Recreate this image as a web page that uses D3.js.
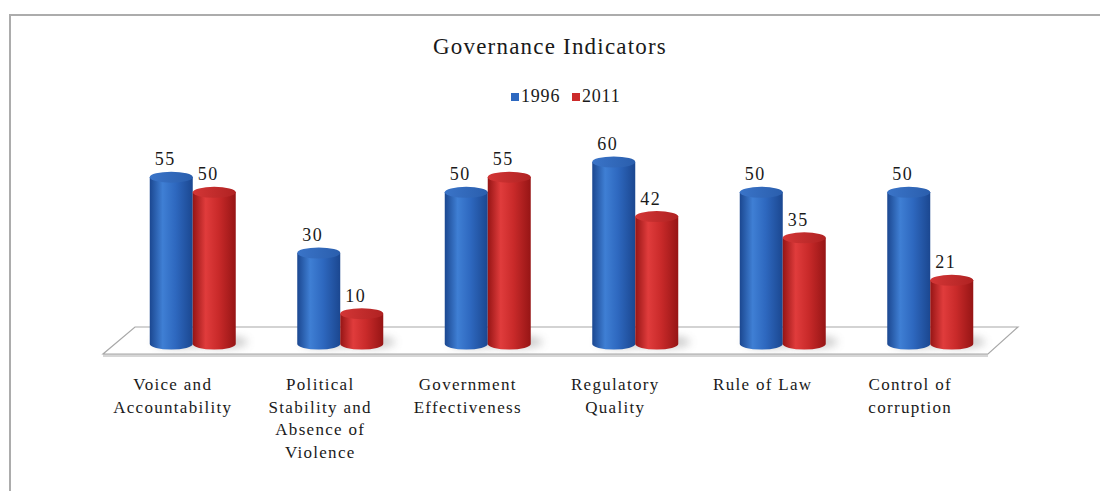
<!DOCTYPE html>
<html>
<head>
<meta charset="utf-8">
<script src="https://cdn.jsdelivr.net/npm/d3@7/dist/d3.min.js"></script>
<style>
  html, body { margin: 0; padding: 0; background: #fff; }
  svg { display: block; }
  text { font-family: "Liberation Serif", "DejaVu Serif", serif; fill: #1a1a1a; }
</style>
</head>
<body>
<svg id="chart" width="1100" height="491"></svg>
<script>
// Governance indicator scores, 1996 vs 2011
const categories = [
  ["Voice and", "Accountability"],
  ["Political", "Stability and", "Absence of", "Violence"],
  ["Government", "Effectiveness"],
  ["Regulatory", "Quality"],
  ["Rule of Law"],
  ["Control of", "corruption"]
];
const seriesNames = ["1996", "2011"];
const values1996 = [55, 30, 50, 60, 50, 50];
const values2011 = [50, 10, 55, 42, 35, 21];
const seriesColors = ["#2d68c0", "#cc2b2b"];

const svg = d3.select("#chart");
const W = 1100, H = 491;

// outer frame (top and left edges)
svg.append("path")
  .attr("d", `M10,${H} L10,15 L${W},15`)
  .attr("fill", "none").attr("stroke", "#acacac").attr("stroke-width", 2);

const defs = svg.append("defs");
function cylGradient(id, dark, mid, light) {
  const g = defs.append("linearGradient").attr("id", id)
    .attr("x1", "0%").attr("x2", "100%").attr("y1", "0%").attr("y2", "0%");
  g.append("stop").attr("offset", "0%").attr("stop-color", dark);
  g.append("stop").attr("offset", "30%").attr("stop-color", light);
  g.append("stop").attr("offset", "60%").attr("stop-color", mid);
  g.append("stop").attr("offset", "100%").attr("stop-color", dark);
}
cylGradient("g0", "#1b4790", "#2e68bf", "#3f7fd4");
cylGradient("g1", "#961515", "#c92a2a", "#e03c3c");
function topGradient(id, a, b) {
  const g = defs.append("linearGradient").attr("id", id)
    .attr("x1", "0%").attr("x2", "100%").attr("y1", "0%").attr("y2", "0%");
  g.append("stop").attr("offset", "0%").attr("stop-color", a);
  g.append("stop").attr("offset", "100%").attr("stop-color", b);
}
topGradient("t0", "#3a74c8", "#2a5ead");
topGradient("t1", "#d33636", "#b02222");
defs.append("filter").attr("id", "blur")
  .attr("x", "-50%").attr("y", "-50%").attr("width", "200%").attr("height", "200%")
  .append("feGaussianBlur").attr("stdDeviation", 4);

// scales
const x = d3.scaleBand().domain(d3.range(categories.length)).range([119, 1004]);
const xs = d3.scaleBand().domain(seriesNames).range([0, 86]);
const y = d3.scaleLinear().domain([0, 60]).range([344, 162]);
const depthBack = 17, depthFront = 10, skew = 16;

// floor
const y0 = y(0);
const floorBack = y0 - depthBack, floorFront = y0 + depthFront;
const xl = x.range()[0], xr = x.range()[1];
svg.append("polygon")
  .attr("points", [
    [xl - skew, floorFront + 3], [xr - skew, floorFront + 3],
    [xr - skew, floorFront], [xl - skew, floorFront]
  ].join(" "))
  .attr("fill", "#d6d6d6");
svg.append("polygon")
  .attr("points", [
    [xl + skew, floorBack], [xr + 14, floorBack],
    [xr - skew, floorFront], [xl - skew, floorFront]
  ].join(" "))
  .attr("fill", "#fff").attr("stroke", "#a8a8a8").attr("stroke-width", 1.2);

// bar records
const bars = [];
categories.forEach((c, i) => {
  [values1996, values2011].forEach((vals, s) => {
    bars.push({ i, s, v: vals[i] });
  });
});
const bw = xs.bandwidth();
const rx = bw / 2, ry = 5.5;
const gx = d => x(d.i) + x.bandwidth() / 2 - 43 + xs(seriesNames[d.s]);

// soft shadows on the floor
svg.append("g").selectAll("ellipse").data(bars).join("ellipse")
  .attr("cx", d => gx(d) + rx + 8)
  .attr("cy", y0 - 2)
  .attr("rx", rx + 4).attr("ry", 6)
  .attr("fill", "#888").attr("opacity", 0.45)
  .attr("filter", "url(#blur)");

// cylinders
const cyl = svg.append("g").selectAll("g").data(bars).join("g");
cyl.append("path")
  .attr("d", d => {
    const x0 = gx(d), x1 = x0 + bw, yt = y(d.v), yb = y0;
    return `M${x0},${yt} L${x0},${yb} A${rx},${ry} 0 0 0 ${x1},${yb} L${x1},${yt} Z`;
  })
  .attr("fill", d => `url(#g${d.s})`);
cyl.append("ellipse")
  .attr("cx", d => gx(d) + rx)
  .attr("cy", d => y(d.v))
  .attr("rx", rx).attr("ry", ry)
  .attr("fill", d => `url(#t${d.s})`);

// value labels
svg.append("g").selectAll("text").data(bars).join("text")
  .attr("x", d => gx(d) + rx - 6)
  .attr("y", d => y(d.v) - 12)
  .attr("text-anchor", "middle")
  .attr("font-size", 18)
  .attr("letter-spacing", 1.5)
  .text(d => d.v);

// category labels
const cat = svg.append("g").selectAll("text").data(categories).join("text")
  .attr("text-anchor", "middle")
  .attr("font-size", 17)
  .attr("letter-spacing", 1.3)
  .attr("x", (d, i) => x(i) + x.bandwidth() / 2 - 20)
  .attr("y", 390);
cat.selectAll("tspan").data(d => d).join("tspan")
  .attr("x", function () { return d3.select(this.parentNode).attr("x"); })
  .attr("dy", (d, k) => k === 0 ? 0 : 22.5)
  .text(d => d);

// title
svg.append("text")
  .attr("x", 550).attr("y", 54)
  .attr("text-anchor", "middle")
  .attr("font-size", 23)
  .attr("letter-spacing", 1.2)
  .text("Governance Indicators");

// legend
const legend = svg.append("g").attr("transform", "translate(511,102)");
const li = legend.selectAll("g").data(seriesNames).join("g")
  .attr("transform", (d, k) => `translate(${k * 61},0)`);
li.append("rect").attr("x", 0).attr("y", -9).attr("width", 8).attr("height", 8)
  .attr("fill", (d, k) => seriesColors[k]);
li.append("text").attr("x", 10).attr("y", 0).attr("font-size", 18)
  .attr("letter-spacing", 0.8).text(d => d);
</script>
</body>
</html>
